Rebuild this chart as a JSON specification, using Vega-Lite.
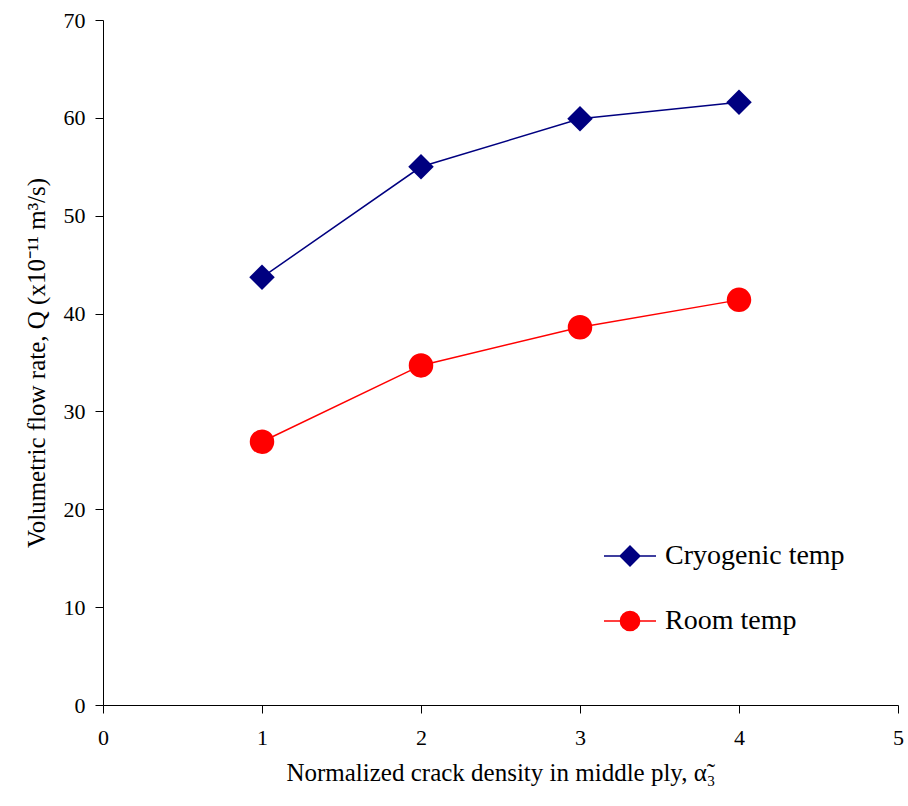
{
  "$schema": "https://vega.github.io/schema/vega-lite/v6.json",
  "width": 795,
  "height": 685,
  "autosize": "none",
  "padding": {"left": 103, "top": 20, "right": 10, "bottom": 101},
  "background": "white",
  "config": {
    "view": {"stroke": null},
    "font": "Liberation Serif",
    "axis": {
      "domainColor": "black",
      "tickColor": "black",
      "grid": false,
      "labelColor": "black",
      "titleColor": "black",
      "labelFont": "Liberation Serif",
      "titleFont": "Liberation Serif",
      "labelFontSize": 22,
      "titleFontSize": 25,
      "titleFontWeight": "normal",
      "tickSize": 8,
      "domainWidth": 1,
      "tickWidth": 1
    }
  },
  "data": {
    "values": [
      {"alpha": 1, "Q": 43.7, "series": "Cryogenic temp"},
      {"alpha": 2, "Q": 55.0, "series": "Cryogenic temp"},
      {"alpha": 3, "Q": 59.9, "series": "Cryogenic temp"},
      {"alpha": 4, "Q": 61.6, "series": "Cryogenic temp"},
      {"alpha": 1, "Q": 26.9, "series": "Room temp"},
      {"alpha": 2, "Q": 34.7, "series": "Room temp"},
      {"alpha": 3, "Q": 38.6, "series": "Room temp"},
      {"alpha": 4, "Q": 41.4, "series": "Room temp"}
    ]
  },
  "encoding": {
    "x": {
      "field": "alpha",
      "type": "quantitative",
      "scale": {"domain": [0, 5], "nice": false},
      "axis": {
        "values": [0, 1, 2, 3, 4, 5],
        "title": "Normalized crack density in middle ply, α̃₃",
        "labelPadding": 14,
        "titlePadding": 12,
        "labelFlush": false
      }
    },
    "y": {
      "field": "Q",
      "type": "quantitative",
      "scale": {"domain": [0, 70], "nice": false},
      "axis": {
        "values": [0, 10, 20, 30, 40, 50, 60, 70],
        "title": "Volumetric flow rate, Q (x10⁻¹¹ m³/s)",
        "labelPadding": 10,
        "titlePadding": 14,
        "labelFlush": false
      }
    }
  },
  "layer": [
    {
      "transform": [{"filter": "datum.series === 'Cryogenic temp'"}],
      "mark": {"type": "line", "strokeWidth": 1.5, "color": "#000080"}
    },
    {
      "transform": [{"filter": "datum.series === 'Room temp'"}],
      "mark": {"type": "line", "strokeWidth": 1.5, "color": "#FF0000"}
    },
    {
      "transform": [{"filter": "datum.series === 'Cryogenic temp'"}],
      "mark": {"type": "point", "shape": "diamond", "filled": true, "size": 650, "color": "#000080", "opacity": 1}
    },
    {
      "transform": [{"filter": "datum.series === 'Room temp'"}],
      "mark": {"type": "point", "shape": "circle", "filled": true, "size": 600, "color": "#FF0000", "opacity": 1}
    },
    {
      "transform": [{"filter": "datum.Q < 0"}],
      "mark": {"type": "point", "filled": true, "strokeWidth": 1.5, "opacity": 1},
      "encoding": {
        "fill": {
          "field": "series",
          "type": "nominal",
          "scale": {"domain": ["Cryogenic temp", "Room temp"], "range": ["#000080", "#FF0000"]},
          "legend": {
            "title": null,
            "orient": "none",
            "legendX": 500,
            "legendY": 509,
            "padding": 0,
            "symbolSize": 2704,
            "symbolOpacity": 1,
            "symbolStrokeWidth": 1.5,
            "labelFontSize": 28,
            "labelFont": "Liberation Serif",
            "labelColor": "black",
            "labelOffset": 8,
            "rowPadding": 24,
            "labelLimit": 400
          }
        },
        "stroke": {
          "field": "series",
          "type": "nominal",
          "scale": {"domain": ["Cryogenic temp", "Room temp"], "range": ["#000080", "#FF0000"]}
        },
        "shape": {
          "field": "series",
          "type": "nominal",
          "scale": {
            "domain": ["Cryogenic temp", "Room temp"],
            "range": [
              "M-1,0H1M-0.38,0L0,-0.38L0.38,0L0,0.38Z",
              "M-1,0H1M0.37,0A0.37,0.37,0,1,1,-0.37,0A0.37,0.37,0,1,1,0.37,0Z"
            ]
          }
        }
      }
    }
  ]
}
